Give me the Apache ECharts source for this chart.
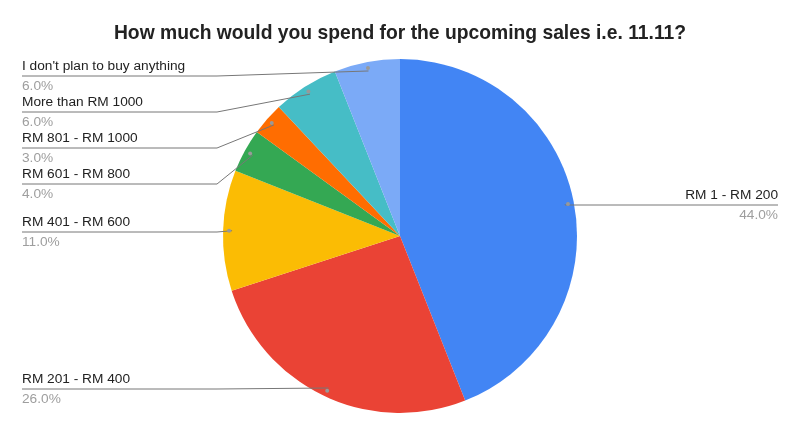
<!DOCTYPE html>
<html>
<head>
<meta charset="utf-8">
<title>11.11 spending</title>
<script src="https://cdn.jsdelivr.net/npm/echarts@6/dist/echarts.min.js"></script>
<style>
  html, body { margin: 0; padding: 0; background: #fff; }
  #chart { width: 800px; height: 436px; }
</style>
</head>
<body>
<div id="chart"></div>
<script>
// Data
const categories = [
  'RM 1 - RM 200',
  'RM 201 - RM 400',
  'RM 401 - RM 600',
  'RM 601 - RM 800',
  'RM 801 - RM 1000',
  'More than RM 1000',
  "I don't plan to buy anything"
];
const shares = [44, 26, 11, 4, 3, 6, 6];
const sliceColors = ['#4285f4', '#ea4335', '#fbbc04', '#34a853', '#ff6d01', '#46bdc6', '#7baaf7'];

// Label placement (layout only)
const labelLineY = [205, 389, 232, 184, 148, 112, 76];
const LEFT_X = 22;
const RIGHT_X = 778;
const BEND_X = 217;

const FONT = 'Arial, "Liberation Sans", sans-serif';
const CENTER = [400, 236];
const RADIUS = 177;
const DOT_R = 168;

const chart = echarts.init(document.getElementById('chart'));

const pieData = categories.map((name, i) => ({
  name,
  value: shares[i],
  itemStyle: { color: sliceColors[i] }
}));
const ghostData = categories.map((name, i) => ({ name, value: shares[i] }));

// start of a label line: the mid angle of the slice as laid out by echarts, at DOT_R
function lineStart(params) {
  try {
    const layout = chart.getModel().getSeriesByIndex(1).getData().getItemLayout(params.dataIndex);
    const mid = (layout.startAngle + layout.endAngle) / 2;
    return [layout.cx + layout.r * Math.cos(mid), layout.cy + layout.r * Math.sin(mid)];
  } catch (e) {
    return params.labelLinePoints ? params.labelLinePoints[0] : [CENTER[0], labelLineY[params.dataIndex]];
  }
}

chart.setOption({
  animation: false,
  title: {
    text: 'How much would you spend for the upcoming sales i.e. 11.11?',
    left: 'center',
    top: 19,
    textStyle: { fontFamily: FONT, fontSize: 19.3, fontWeight: 'bold', color: '#222' }
  },
  series: [
    {
      type: 'pie',
      zlevel: 0,
      center: CENTER,
      radius: RADIUS,
      startAngle: 90,
      clockwise: true,
      label: { show: false },
      labelLine: { show: false },
      data: pieData
    },
    // invisible copy, used only for the labels and their lines (drawn above the pie)
    {
      type: 'pie',
      zlevel: 1,
      center: CENTER,
      radius: DOT_R,
      startAngle: 90,
      silent: true,
      itemStyle: { color: 'rgba(0,0,0,0)' },
      avoidLabelOverlap: false,
      label: {
        show: true,
        position: 'outside',
        fontFamily: FONT,
        formatter: p => `{n|${p.name}}\n{p|${p.value.toFixed(1)}%}`,
        rich: {
          n: { fontFamily: FONT, fontSize: 13.7, color: '#222', lineHeight: 20 },
          p: { fontFamily: FONT, fontSize: 13.7, color: '#9e9e9e', lineHeight: 20 }
        }
      },
      labelLine: {
        show: true,
        length: 10,
        length2: 10,
        lineStyle: { color: '#777', width: 1 }
      },
      labelLayout: params => {
        const y = labelLineY[params.dataIndex];
        const start = lineStart(params);
        if (start[0] > CENTER[0]) {
          return {
            x: RIGHT_X, y, align: 'right', verticalAlign: 'middle',
            labelLinePoints: [start, [start[0], y], [RIGHT_X, y]]
          };
        }
        return {
          x: LEFT_X, y, align: 'left', verticalAlign: 'middle',
          labelLinePoints: [start, [Math.min(BEND_X, start[0]), y], [LEFT_X, y]]
        };
      },
      data: ghostData
    },
    // small grey dots where the label lines begin
    {
      type: 'pie',
      zlevel: 1,
      center: CENTER,
      radius: [DOT_R - 4, DOT_R + 4],
      startAngle: 90,
      silent: true,
      itemStyle: { color: 'rgba(0,0,0,0)' },
      label: {
        show: true,
        position: 'inside',
        formatter: '{d|}',
        rich: { d: { width: 4, height: 4, borderRadius: 2, backgroundColor: '#999' } }
      },
      labelLine: { show: false },
      data: ghostData
    }
  ]
});
</script>
</body>
</html>
